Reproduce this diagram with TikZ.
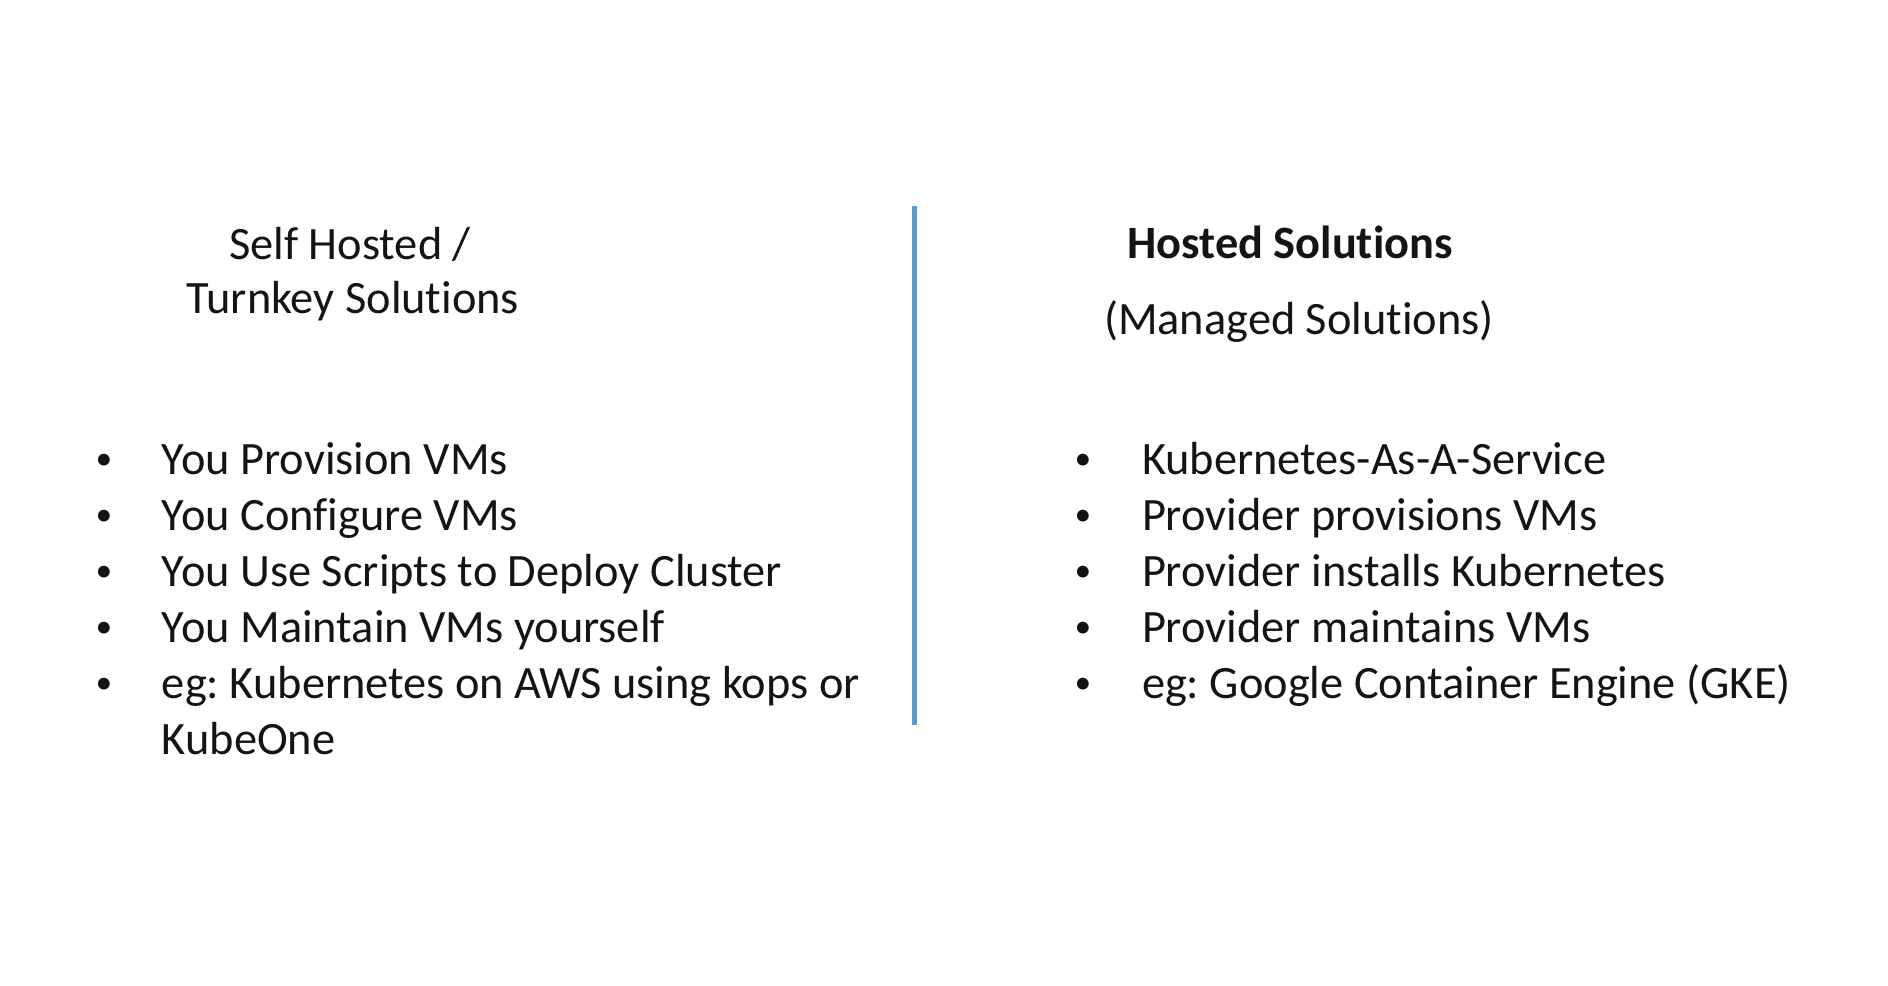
\documentclass[tikz,border=0pt]{standalone}
\usepackage{fontspec}
\setmainfont{Carlito}[Ligatures={NoCommon}]
\usepackage{xcolor}
\usepackage{tikz}
\usetikzlibrary{positioning}
\definecolor{divblue}{RGB}{91,155,213}
\definecolor{inkgray}{RGB}{20,20,20}
\frenchspacing

\begin{document}
\begin{tikzpicture}[x=0.1mm,y=-0.1mm,every node/.style={outer sep=0pt,inner sep=0pt,text=inkgray,
font=\fontsize{13.2}{15.8}\selectfont}]
\tikzstyle{heading}=[anchor=base,align=center]
\tikzstyle{dot}=[anchor=base,font=\fontsize{9.5}{11}\selectfont,yshift=0.45mm]
\tikzstyle{item}=[anchor=base west]
\tikzstyle{divider}=[divblue,line width=0.5mm]
\useasboundingbox (0,0) rectangle (1888,986);
\fill [white] (0,0) rectangle (1888,986);
%
% self hosted side
\node (selfhosted) [heading] at (350,259) {Self Hosted /};
\node (turnkey) [heading] at (353,313) {Turnkey Solutions};
\foreach \txt [count=\i] in {You Provision VMs,You Configure VMs,
You Use Scripts to Deploy Cluster,You Maintain VMs yourself,
eg: Kubernetes on AWS using kops or}
{
\node (ldot\i) [dot] at (104,{474+56*(\i-1)}) {•};
\node (litem\i) [item] at (162,{474+56*(\i-1)}) {\txt};
}
\node (kubeone) [item] at (162,754) {KubeOne};
%
% divider
\coordinate (divtop) at (914,206);
\coordinate (divbot) at (914,725);
\draw [divider] (divtop) -- (divbot);
%
% hosted side
\node (hosted) [heading,font=\fontsize{13.2}{15.8}\selectfont\bfseries] at (1290,258) {Hosted Solutions};
\node (managed) [heading] at (1299,334) {(Managed Solutions)};
\foreach \txt [count=\i] in {Kubernetes-As-A-Service,Provider provisions VMs,
Provider installs Kubernetes,Provider maintains VMs,
eg: Google Container Engine (GKE)}
{
\node (rdot\i) [dot] at (1083,{474+56*(\i-1)}) {•};
\node (ritem\i) [item] at (1142,{474+56*(\i-1)}) {\txt};
}
%
\end{tikzpicture}
\end{document}
